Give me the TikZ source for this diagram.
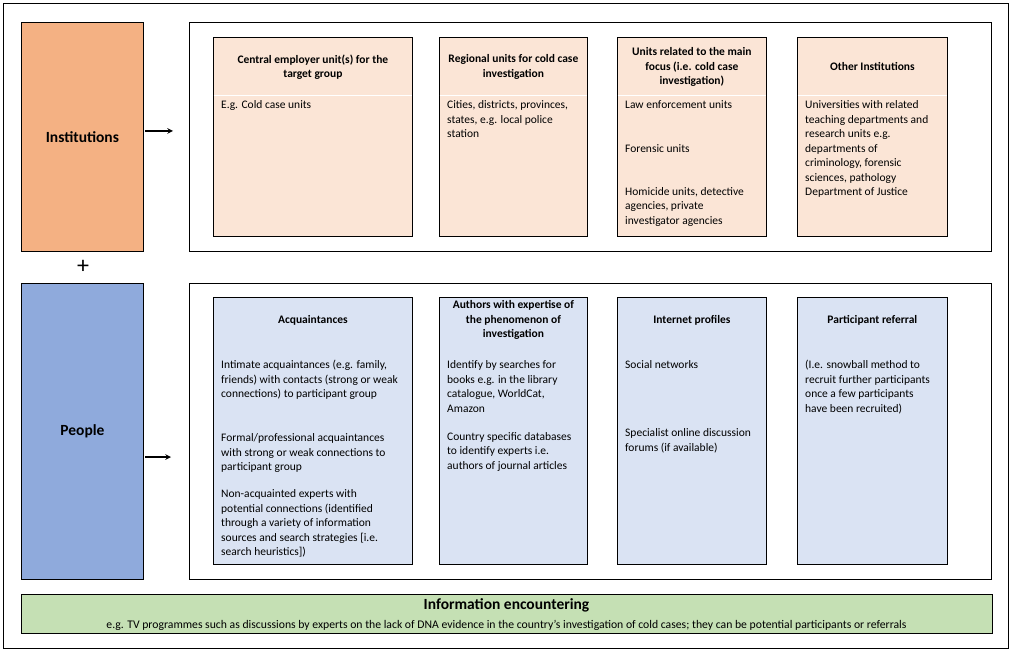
\documentclass[tikz,border=0pt]{standalone}
\usepackage{fontspec}
\setmainfont{Carlito}
\usepackage{xcolor}
\usetikzlibrary{positioning, arrows}

\definecolor{instorange}{HTML}{F4B183}
\definecolor{instlight}{HTML}{FBE5D6}
\definecolor{pplblue}{HTML}{8FAADC}
\definecolor{ppllight}{HTML}{DAE3F3}
\definecolor{infogreen}{HTML}{C5E0B4}

\begin{document}
\begin{tikzpicture}[x=1pt, y=-1pt,
        box/.style={draw, line width=0.8pt, inner sep=0pt, anchor=north west},
        sidetitle/.style={font=\fontsize{15.5}{18}\selectfont\bfseries},
        cardtitle/.style={font=\fontsize{11.5}{14.5}\selectfont\bfseries, align=center, inner sep=0pt},
        cardtext/.style={font=\fontsize{11.5}{14.5}\selectfont, align=left, anchor=north west, inner sep=0pt, xshift=8pt},
        feed/.style={-stealth, line width=1.5pt, shorten <=1.5pt}]
    \useasboundingbox (0,0) rectangle (1012,652);
    \node[box, minimum width=1005, minimum height=645] (frame) at (3,3) {};

    \node[box, fill=instorange, minimum width=122, minimum height=229, sidetitle] (inst) at (21,22) {Institutions};
    \node[box, minimum width=802, minimum height=229] (instgroup) at (189,22) {};
    \node[box, fill=instlight, minimum width=199, minimum height=199] (ic1) at (213,37) {};
    \node[box, fill=instlight, minimum width=148, minimum height=199] (ic2) at (439,37) {};
    \node[box, fill=instlight, minimum width=149, minimum height=199] (ic3) at (617,37) {};
    \node[box, fill=instlight, minimum width=150, minimum height=199] (ic4) at (797,37) {};

    \coordinate (sepline) at (0,96);
    \coordinate (insttop) at (0,67);
    \coordinate (instbody) at (0,98.5);
    \foreach \c in {ic1, ic2, ic3, ic4}
        \draw[white, line width=1pt, shorten <=0.6pt, shorten >=0.6pt] (\c.west |- sepline) -- (\c.east |- sepline);

    \node[cardtitle] (ic1title) at (ic1.center |- insttop) {Central employer unit(s) for the\\target group};
    \node[cardtitle] (ic2title) at (ic2.center |- insttop) {Regional units for cold case\\investigation};
    \node[cardtitle] (ic3title) at (ic3.center |- insttop) {Units related to the main\\focus (i.e. cold case\\investigation)};
    \node[cardtitle] (ic4title) at (ic4.center |- insttop) {Other Institutions};

    \node[cardtext] (ic1text) at (ic1.west |- instbody) {\strut E.g. Cold case units};
    \node[cardtext] (ic2text) at (ic2.west |- instbody) {\strut Cities, districts, provinces,\\states, e.g. local police\\station};
    \node[cardtext] (ic3text) at (ic3.west |- instbody) {\strut Law enforcement units\\[29pt]Forensic units\\[28.5pt]Homicide units, detective\\agencies, private\\investigator agencies};
    \node[cardtext] (ic4text) at (ic4.west |- instbody) {\strut Universities with related\\teaching departments and\\research units e.g.\\departments of\\criminology, forensic\\sciences, pathology\\Department of Justice};

    \node[font=\fontsize{24}{24}\selectfont] (plus) at (83,267) {+};

    \node[box, fill=pplblue, minimum width=122, minimum height=296, sidetitle] (ppl) at (21,283) {People};
    \node[box, minimum width=802, minimum height=296] (pplgroup) at (189,283) {};
    \node[box, fill=ppllight, minimum width=199, minimum height=267] (pc1) at (213,297) {};
    \node[box, fill=ppllight, minimum width=148, minimum height=267] (pc2) at (439,297) {};
    \node[box, fill=ppllight, minimum width=149, minimum height=267] (pc3) at (617,297) {};
    \node[box, fill=ppllight, minimum width=150, minimum height=267] (pc4) at (797,297) {};

    \coordinate (ppltop) at (0,320);
    \coordinate (pplbody) at (0,358.5);
    \node[cardtitle] (pc1title) at (pc1.center |- ppltop) {Acquaintances};
    \node[cardtitle] (pc2title) at (pc2.center |- ppltop) {Authors with expertise of\\the phenomenon of\\investigation};
    \node[cardtitle] (pc3title) at (pc3.center |- ppltop) {Internet profiles};
    \node[cardtitle] (pc4title) at (pc4.center |- ppltop) {Participant referral};

    \node[cardtext] (pc1text) at (pc1.west |- pplbody) {\strut Intimate acquaintances (e.g. family,\\friends) with contacts (strong or weak\\connections) to participant group\\[29.5pt]Formal/professional acquaintances\\with strong or weak connections to\\participant group\\[12.5pt]Non-acquainted experts with\\potential connections (identified\\through a variety of information\\sources and search strategies [i.e.\\search heuristics])};
    \node[cardtext] (pc2text) at (pc2.west |- pplbody) {\strut Identify by searches for\\books e.g. in the library\\catalogue, WorldCat,\\Amazon\\[13.5pt]Country specific databases\\to identify experts i.e.\\authors of journal articles};
    \node[cardtext] (pc3text) at (pc3.west |- pplbody) {\strut Social networks\\[53.5pt]Specialist online discussion\\forums (if available)};
    \node[cardtext] (pc4text) at (pc4.west |- pplbody) {\strut (I.e. snowball method to\\recruit further participants\\once a few participants\\have been recruited)};

    \coordinate (instin) at (173,131);
    \coordinate (pplin) at (171,457);
    \draw[feed] (inst.east |- instin) -- (instin);
    \draw[feed] (ppl.east |- pplin) -- (pplin);

    \node[box, fill=infogreen, minimum width=971, minimum height=39] (info) at (21,594) {};
    \node[font=\fontsize{15.5}{18}\selectfont\bfseries] (infotitle) at (506.5,605) {Information encountering};
    \node[font=\fontsize{11.7}{13}\selectfont] (infotext) at (506.5,625) {e.g. TV programmes such as discussions by experts on the lack of DNA evidence in the country's investigation of cold cases; they can be potential participants or referrals};
\end{tikzpicture}
\end{document}
